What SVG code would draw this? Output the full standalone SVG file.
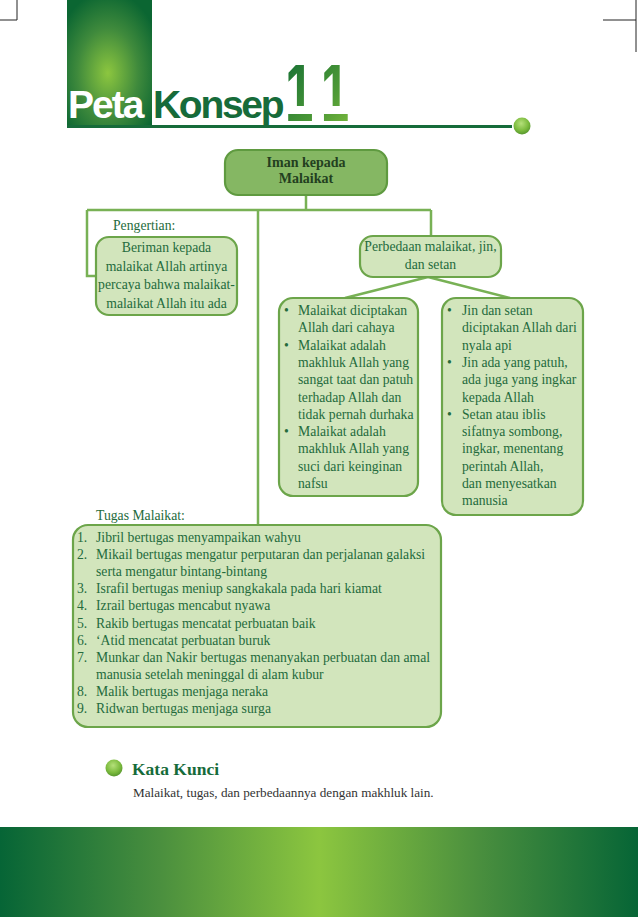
<svg xmlns="http://www.w3.org/2000/svg" width="638" height="917" viewBox="0 0 638 917">
<defs>
<radialGradient id="hdrG" cx="0.48" cy="0.58" r="0.65">
<stop offset="0" stop-color="#8cc63f"/>
<stop offset="0.55" stop-color="#3f8a3c"/>
<stop offset="1" stop-color="#0b6632"/>
</radialGradient>
<linearGradient id="bandG" x1="0" y1="0" x2="1" y2="0">
<stop offset="0" stop-color="#066536"/>
<stop offset="0.25" stop-color="#4a8f3e"/>
<stop offset="0.5" stop-color="#8cc63f"/>
<stop offset="0.75" stop-color="#4a8f3e"/>
<stop offset="1" stop-color="#066536"/>
</linearGradient>
<radialGradient id="ballG" cx="0.45" cy="0.35" r="0.7">
<stop offset="0" stop-color="#b5e07a"/>
<stop offset="0.6" stop-color="#7cbb3e"/>
<stop offset="1" stop-color="#4f8f2a"/>
</radialGradient>
<linearGradient id="numG" x1="0" y1="0" x2="1" y2="1">
<stop offset="0" stop-color="#0e6a35"/>
<stop offset="0.6" stop-color="#4e9a36"/>
<stop offset="1" stop-color="#8cc63f"/>
</linearGradient>
</defs>
<style>
.cn{fill:none;stroke:#78b155;stroke-width:2.5}
.box{fill:#d2e5bc;stroke:#6ca54a;stroke-width:2.2}
.root{fill:#85b763;stroke:#5f9a40;stroke-width:2.2}
.t{font-family:"Liberation Serif","Times New Roman",serif;font-size:13.7px;fill:#246b3c}
.tc{text-anchor:middle}
.rt{font-family:"Liberation Serif","Times New Roman",serif;font-size:14px;font-weight:bold;fill:#23401f;text-anchor:middle}
.mark{stroke:#222;stroke-width:1;fill:none}
</style>
<rect width="638" height="917" fill="#ffffff"/>
<path class="mark" d="M17 0V20H0M603 20H636V0M636 20V52"/>
<g id="header">
<rect x="67" y="0" width="85" height="126" fill="url(#hdrG)"/>
<rect x="67" y="125" width="445" height="3" fill="#166b3a"/>
<circle cx="522" cy="126" r="8.5" fill="url(#ballG)"/>
<text x="68" y="118" font-family="Liberation Sans,Arial,sans-serif" font-weight="bold" font-size="39" letter-spacing="-2" fill="#ffffff">Peta</text>
<text x="153" y="118" font-family="Liberation Sans,Arial,sans-serif" font-weight="bold" font-size="39" letter-spacing="-2.3" fill="#166b3a">Konsep</text>
<text transform="translate(285 121) scale(0.85 1.4)" x="0" y="0" font-family="Liberation Sans,Arial,sans-serif" font-weight="bold" font-size="60" letter-spacing="12" fill="url(#numG)">11</text>
<rect x="284" y="106" width="80" height="8" fill="#ffffff"/>
<rect x="284" y="62" width="80" height="3" fill="#ffffff"/>
</g>
<g id="connectors">
<path class="cn" d="M306 196V210M87 210H431M87 210V276H96M258 210V525M431 210V236M428 277L345 298M428 277L510 298"/>
</g>
<g id="root">
<rect class="root" x="225" y="150" width="162" height="45" rx="13"/>
<text class="rt" x="306" y="167">Iman kepada</text>
<text class="rt" x="306" y="183">Malaikat</text>
</g>
<g id="pengertian">
<text class="t" x="113" y="230">Pengertian:</text>
<rect class="box" x="96" y="237" width="141" height="78" rx="13"/>
<text class="t tc" x="166.5" y="252">Beriman kepada</text>
<text class="t tc" x="166.5" y="270.5">malaikat Allah artinya</text>
<text class="t tc" x="166.5" y="289">percaya bahwa malaikat-</text>
<text class="t tc" x="166.5" y="307.5">malaikat Allah itu ada</text>
</g>
<g id="perbedaan">
<rect class="box" x="360" y="236" width="141" height="41" rx="13"/>
<text class="t tc" x="430.5" y="251">Perbedaan malaikat, jin,</text>
<text class="t tc" x="430.5" y="269">dan setan</text>
</g>
<g id="malaikat">
<rect class="box" x="279" y="298" width="139" height="198" rx="14"/>
<g class="t">
<text x="284" y="315">•</text><text x="298" y="315">Malaikat diciptakan</text>
<text x="298" y="332.3">Allah dari cahaya</text>
<text x="284" y="349.6">•</text><text x="298" y="349.6">Malaikat adalah</text>
<text x="298" y="366.9">makhluk Allah yang</text>
<text x="298" y="384.2">sangat taat dan patuh</text>
<text x="298" y="401.5">terhadap Allah dan</text>
<text x="298" y="418.8">tidak pernah durhaka</text>
<text x="284" y="436.1">•</text><text x="298" y="436.1">Malaikat adalah</text>
<text x="298" y="453.4">makhluk Allah yang</text>
<text x="298" y="470.7">suci dari keinginan</text>
<text x="298" y="488">nafsu</text>
</g>
</g>
<g id="jin">
<rect class="box" x="442" y="298" width="141" height="217" rx="14"/>
<g class="t">
<text x="447" y="315">•</text><text x="462" y="315">Jin dan setan</text>
<text x="462" y="332.3">diciptakan Allah dari</text>
<text x="462" y="349.6">nyala api</text>
<text x="447" y="366.9">•</text><text x="462" y="366.9">Jin ada yang patuh,</text>
<text x="462" y="384.2">ada juga yang ingkar</text>
<text x="462" y="401.5">kepada Allah</text>
<text x="447" y="418.8">•</text><text x="462" y="418.8">Setan atau iblis</text>
<text x="462" y="436.1">sifatnya sombong,</text>
<text x="462" y="453.4">ingkar, menentang</text>
<text x="462" y="470.7">perintah Allah,</text>
<text x="462" y="488">dan menyesatkan</text>
<text x="462" y="505.3">manusia</text>
</g>
</g>
<g id="tugas">
<text class="t" x="96" y="520">Tugas Malaikat:</text>
<rect class="box" x="73" y="525" width="368" height="202" rx="15"/>
<g class="t">
<text x="77" y="542">1.</text><text x="96" y="542">Jibril bertugas menyampaikan wahyu</text>
<text x="77" y="559.1">2.</text><text x="96" y="559.1">Mikail bertugas mengatur perputaran dan perjalanan galaksi</text>
<text x="96" y="576.2">serta mengatur bintang-bintang</text>
<text x="77" y="593.3">3.</text><text x="96" y="593.3">Israfil bertugas meniup sangkakala pada hari kiamat</text>
<text x="77" y="610.4">4.</text><text x="96" y="610.4">Izrail bertugas mencabut nyawa</text>
<text x="77" y="627.5">5.</text><text x="96" y="627.5">Rakib bertugas mencatat perbuatan baik</text>
<text x="77" y="644.6">6.</text><text x="96" y="644.6">‘Atid mencatat perbuatan buruk</text>
<text x="77" y="661.7">7.</text><text x="96" y="661.7">Munkar dan Nakir bertugas menanyakan perbuatan dan amal</text>
<text x="96" y="678.8">manusia setelah meninggal di alam kubur</text>
<text x="77" y="695.9">8.</text><text x="96" y="695.9">Malik bertugas menjaga neraka</text>
<text x="77" y="713">9.</text><text x="96" y="713">Ridwan bertugas menjaga surga</text>
</g>
</g>
<g id="katakunci">
<circle cx="114" cy="768" r="8.5" fill="url(#ballG)"/>
<text x="132" y="775" font-family="Liberation Serif,serif" font-weight="bold" font-size="17.5" fill="#166b3a">Kata Kunci</text>
<text x="133" y="797" font-family="Liberation Serif,serif" font-size="13.2" fill="#333333">Malaikat, tugas, dan perbedaannya dengan makhluk lain.</text>
</g>
<rect x="0" y="827" width="638" height="90" fill="url(#bandG)"/>
</svg>
